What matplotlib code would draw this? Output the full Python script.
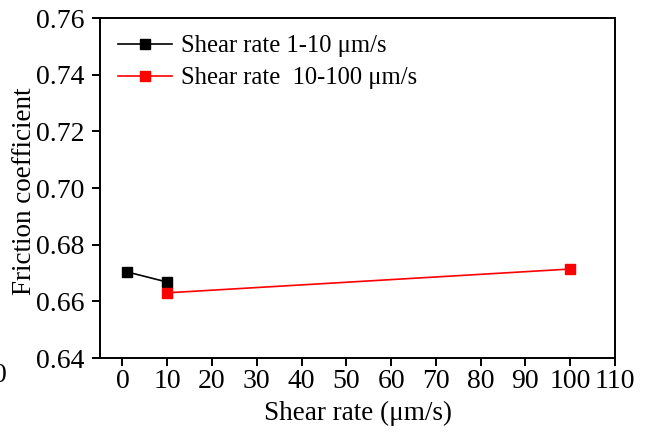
import matplotlib
matplotlib.use("Agg")
import matplotlib.pyplot as plt

# data
rate_low = [1, 10]
friction_low = [0.6704, 0.6668]
rate_high = [10, 100]
friction_high = [0.6630, 0.6714]

label_low = "Shear rate 1-10 \u03bcm/s"
label_high = "Shear rate  10-100 \u03bcm/s"

plt.rcParams['font.family'] = ['Liberation Serif', 'DejaVu Serif']

fig = plt.figure(figsize=(6.48, 4.34), dpi=100)
ax = fig.add_axes([100 / 648, 1 - 358 / 434, 515 / 648, 340 / 434])

ax.plot(rate_low, friction_low, color='black', marker='s', markersize=7.5,
        linewidth=1.2, label=label_low)
ax.plot(rate_high, friction_high, color='red', marker='s', markersize=7.5,
        linewidth=1.2, label=label_high)

ax.set_xlim(-5, 110)
ax.set_ylim(0.64, 0.76)
ax.set_xticks(range(0, 111, 10))
ax.set_yticks([0.64, 0.66, 0.68, 0.70, 0.72, 0.74, 0.76])
ax.set_yticklabels([f"{v:.2f}" for v in ax.get_yticks()])

ax.tick_params(axis='both', which='both', direction='out', length=6, width=1.4,
               labelsize=20, top=False, right=False)
ax.tick_params(axis='y', pad=5)
ax.tick_params(axis='x', pad=2)
for s in ax.spines.values():
    s.set_linewidth(1.4)

ax.set_xlabel("Shear rate (\u03bcm/s)", fontsize=19.5, labelpad=5)
ax.set_ylabel("Friction coefficient", fontsize=19.5)
ax.yaxis.set_label_coords(-0.122, 0.49)

ax.legend(loc='upper left', frameon=False, fontsize=17.7, handlelength=2.2,
          handletextpad=0.37, borderaxespad=0, borderpad=0, labelspacing=0.4,
          markerscale=0.9, bbox_to_anchor=(0.035, 0.95))

# clipped tick label from the neighbouring panel at the left edge
fig.text(0.0, 1 - 376 / 434, "0", fontsize=20, ha='center', va='center')

fig.savefig("out.png", dpi=100)
